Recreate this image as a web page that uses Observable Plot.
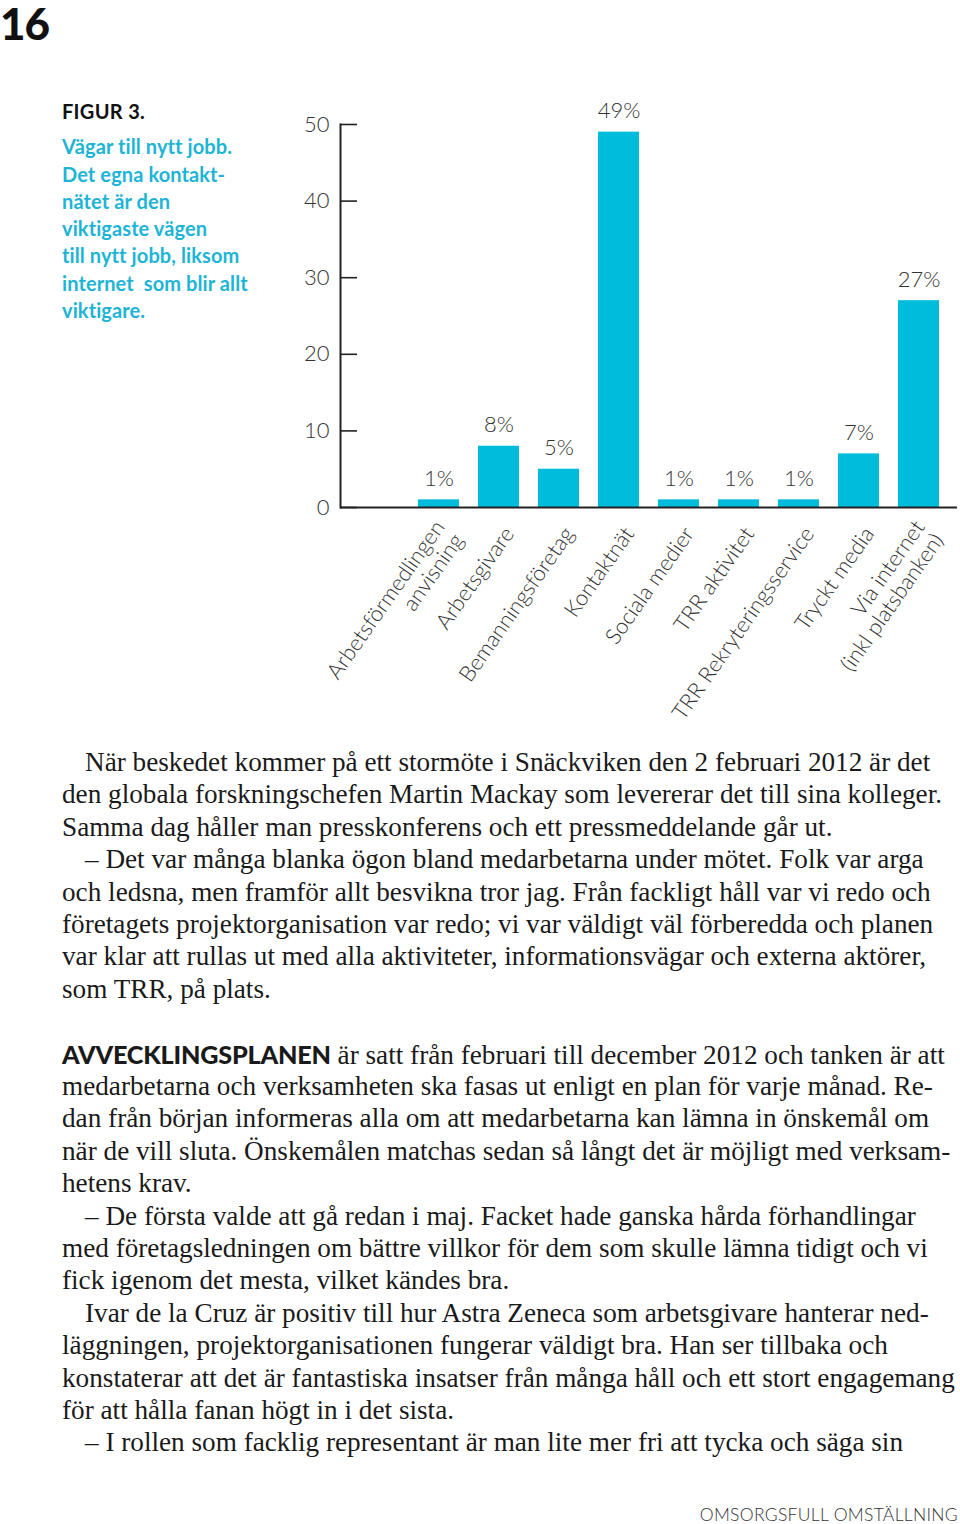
<!DOCTYPE html>
<html><head><meta charset="utf-8">
<script src="https://cdn.jsdelivr.net/npm/d3@7"></script>
<script src="https://cdn.jsdelivr.net/npm/@observablehq/plot@0.6"></script>
<style>
html,body{margin:0;padding:0;background:#fff;}
#page{position:relative;width:960px;height:1524px;overflow:hidden;background:#fff;}
#chart{position:absolute;left:0;top:0;}
#pageno{position:absolute;left:0;top:0;padding:0 2px 0 0;font:900 44px/1.05 Lato,sans-serif;color:#111;letter-spacing:-1px;}
#title{position:absolute;left:62px;top:98px;width:250px;font-family:Lato,sans-serif;font-weight:700;font-size:20px;line-height:27.3px;letter-spacing:0.1px;}
#title .fig{color:#111;margin-bottom:8px;letter-spacing:0.3px;}
#title .sub{color:#1db4d6;}
.line{position:absolute;left:62px;height:32.4px;line-height:32.4px;white-space:nowrap;font-family:"Liberation Serif",serif;font-size:27px;color:#1a1a1a;transform-origin:0 50%;}
.line b{font-family:Lato,sans-serif;font-weight:900;font-size:25px;letter-spacing:-0.2px;}
#footer{position:absolute;right:2px;top:1504px;font-family:Lato,sans-serif;font-weight:300;font-size:17.5px;letter-spacing:0.3px;color:#333;}
</style></head>
<body><div id="page">
<div id="chart"></div>
<div id="pageno">16</div>
<div id="title"><div class="fig">FIGUR 3.</div><div class="sub" id="sub"></div></div>
<div id="body"></div>
<div id="footer">OMSORGSFULL OMSTÄLLNING</div>
</div>
<script>
// ---- chart data ----
const categories = [
  "Arbetsförmedlingen\nanvisning",
  "Arbetsgivare",
  "Bemanningsföretag",
  "Kontaktnät",
  "Sociala medier",
  "TRR aktivitet",
  "TRR Rekryteringsservice",
  "Tryckt media",
  "Via internet\n(inkl platsbanken)"
];
const values = [1, 8, 5, 49, 1, 1, 1, 7, 27];
const valueLabels = ["1%", "8%", "5%", "49%", "1%", "1%", "1%", "7%", "27%"];
const yTicks = [0, 10, 20, 30, 40, 50];

const subtitleLines = [
  "Vägar till nytt jobb.",
  "Det egna kontakt-",
  "nätet är den",
  "viktigaste vägen",
  "till nytt jobb, liksom",
  "internet&nbsp; som blir allt",
  "viktigare."
];

const bodyLines = [
  {t: "När beskedet kommer på ett stormöte i Snäckviken den 2 februari 2012 är det", ind: true},
  {t: "den globala forskningschefen Martin Mackay som levererar det till sina kolleger."},
  {t: "Samma dag håller man presskonferens och ett pressmeddelande går ut."},
  {t: "– Det var många blanka ögon bland medarbetarna under mötet. Folk var arga", ind: true},
  {t: "och ledsna, men framför allt besvikna tror jag. Från fackligt håll var vi redo och"},
  {t: "företagets projektorganisation var redo; vi var väldigt väl förberedda och planen"},
  {t: "var klar att rullas ut med alla aktiviteter, informationsvägar och externa aktörer,"},
  {t: "som TRR, på plats."},
  {t: ""},
  {t: "är satt från februari till december 2012 och tanken är att", lead: "AVVECKLINGSPLANEN"},
  {t: "medarbetarna och verksamheten ska fasas ut enligt en plan för varje månad. Re-"},
  {t: "dan från början informeras alla om att medarbetarna kan lämna in önskemål om"},
  {t: "när de vill sluta. Önskemålen matchas sedan så långt det är möjligt med verksam-"},
  {t: "hetens krav."},
  {t: "– De första valde att gå redan i maj. Facket hade ganska hårda förhandlingar", ind: true},
  {t: "med företagsledningen om bättre villkor för dem som skulle lämna tidigt och vi"},
  {t: "fick igenom det mesta, vilket kändes bra."},
  {t: "Ivar de la Cruz är positiv till hur Astra Zeneca som arbetsgivare hanterar ned-", ind: true},
  {t: "läggningen, projektorganisationen fungerar väldigt bra. Han ser tillbaka och"},
  {t: "konstaterar att det är fantastiska insatser från många håll och ett stort engagemang"},
  {t: "för att hålla fanan högt in i det sista."},
  {t: "– I rollen som facklig representant är man lite mer fri att tycka och säga sin", ind: true}
];

const data = categories.map((c, i) => ({cat: c, val: values[i], label: valueLabels[i]}));

const BAR = "#00bcdc";
const INK = "#222";
const LIGHT = "Lato, 'Open Sans', sans-serif";

const chart = Plot.plot({
  width: 960,
  height: 730,
  marginTop: 124,
  marginBottom: 223,
  marginLeft: 340,
  marginRight: 3,
  style: {fontFamily: LIGHT, background: "transparent", overflow: "visible"},
  x: {domain: categories, range: [417.7, 938.7], paddingInner: 0.317, paddingOuter: 0, align: 0, axis: null},
  y: {domain: [0, 50], axis: null, label: null},
  marks: [
    Plot.barY(data, {x: "cat", y: "val", fill: BAR}),
    Plot.frame({anchor: "left", stroke: INK, strokeWidth: 2}),
    Plot.ruleY([0], {stroke: INK, strokeWidth: 2}),
    Plot.axisY(yTicks, {anchor: "left", label: null, tickSize: -17, tickPadding: 28, stroke: INK, strokeWidth: 1.6,
      fontSize: 22, fontWeight: 300, fill: "#333", tickFormat: d => d}),
    Plot.text(data, {x: "cat", y: "val", text: "label", lineAnchor: "bottom", dy: -14,
      fontSize: 22, fontWeight: 300, fill: "#333"}),
    Plot.text(data, {x: "cat", y: 0, text: "cat", rotate: -55, textAnchor: "end", lineAnchor: "middle",
      dx: 10, dy: 22, fontSize: 22, fontWeight: 300, fill: "#333", lineHeight: 1.05})
  ]
});
document.getElementById("chart").appendChild(chart);

document.getElementById("sub").innerHTML = subtitleLines.join("<br>");

const body = document.getElementById("body");
const lineEls = bodyLines.map((l, i) => {
  const d = document.createElement("div");
  d.className = "line";
  d.style.top = (746 + i * 32.4) + "px";
  if (l.ind) d.style.left = "85px";
  d.innerHTML = (l.lead ? "<b>" + l.lead + "</b> " : "") + l.t;
  body.appendChild(d);
  return d;
});
// uniform horizontal condensing so the second line spans the measured column width
const refW = lineEls[1].getBoundingClientRect().width;
const s = 880 / refW;
lineEls.forEach(d => d.style.transform = `scaleX(${s})`);
</script>
</body></html>
